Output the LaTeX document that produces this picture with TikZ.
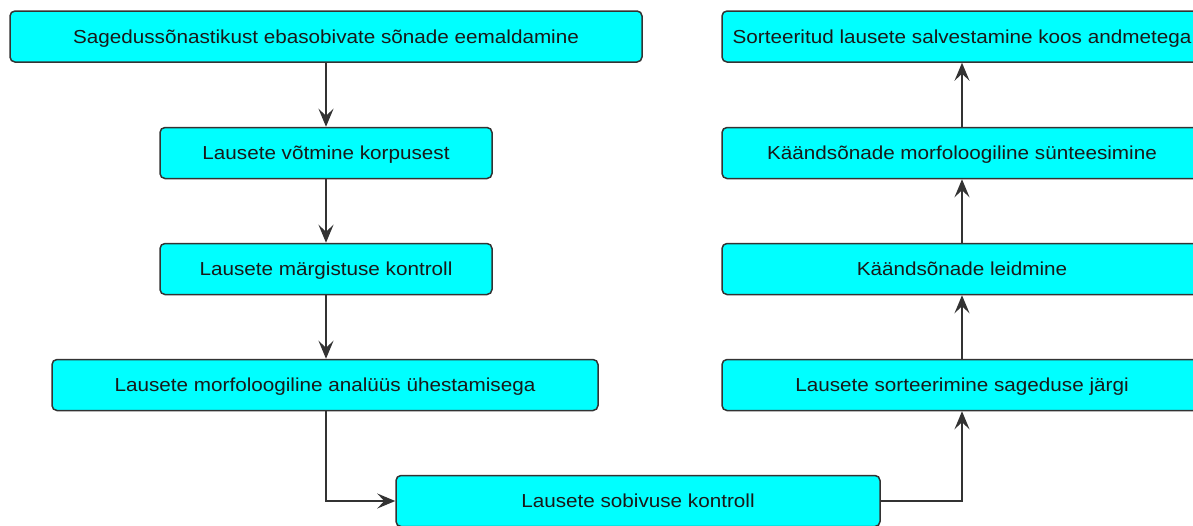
\documentclass[tikz,border=0pt]{standalone}
\usepackage{fontspec}
\setmainfont{Liberation Sans}[FakeStretch=1.1]
\usetikzlibrary{arrows.meta}

\definecolor{boxcyan}{RGB}{0,255,255}

\tikzset{
    stepbox/.style={draw=black!80, line width=1.5pt, fill=boxcyan, rounded corners=5pt,
        minimum height=51pt, inner sep=0pt, text height=15pt, text depth=2pt,
        font=\fontsize{18.8}{22}\selectfont, text=black!90},
    flow/.style={draw=black!80, line width=1.5pt, -{Stealth[length=18pt, width=15pt, inset=7pt]}}
}

\begin{document}
\begin{tikzpicture}[x=1pt, y=-1pt]
    % Canvas
    \useasboundingbox (0,0) rectangle (1193,525);
    \clip (0,0) rectangle (1193,525);

    % Left column
    \node[stepbox, minimum width=632pt] (remove) at (326,36.5) {Sagedussõnastikust ebasobivate sõnade eemaldamine};
    \node[stepbox, minimum width=332pt] (take) at (326,153) {Lausete võtmine korpusest};
    \node[stepbox, minimum width=332pt] (tags) at (326,269) {Lausete märgistuse kontroll};
    \node[stepbox, minimum width=546pt] (morph) at (325,385) {Lausete morfoloogiline analüüs ühestamisega};

    % Bottom
    \node[stepbox, minimum width=484pt] (fit) at (638,501) {Lausete sobivuse kontroll};

    % Right column
    \node[stepbox, minimum width=480pt] (sort) at (962,385) {Lausete sorteerimine sageduse järgi};
    \node[stepbox, minimum width=480pt] (find) at (962,269) {Käändsõnade leidmine};
    \node[stepbox, minimum width=480pt] (synth) at (962,153) {Käändsõnade morfoloogiline sünteesimine};
    \node[stepbox, minimum width=480pt] (save) at (962,36.5) {Sorteeritud lausete salvestamine koos andmetega};

    % Arrows down
    \draw[flow] (remove.south -| take.north) -- (take.north);
    \draw[flow] (take) -- (tags);
    \draw[flow] (tags) -- (morph.north -| tags.south);
    \draw[flow] (morph.south -| tags.south) |- (fit.west);

    % Arrows up
    \draw[flow] (fit.east) -| (sort.south);
    \draw[flow] (sort) -- (find);
    \draw[flow] (find) -- (synth);
    \draw[flow] (synth) -- (save);
\end{tikzpicture}
\end{document}
